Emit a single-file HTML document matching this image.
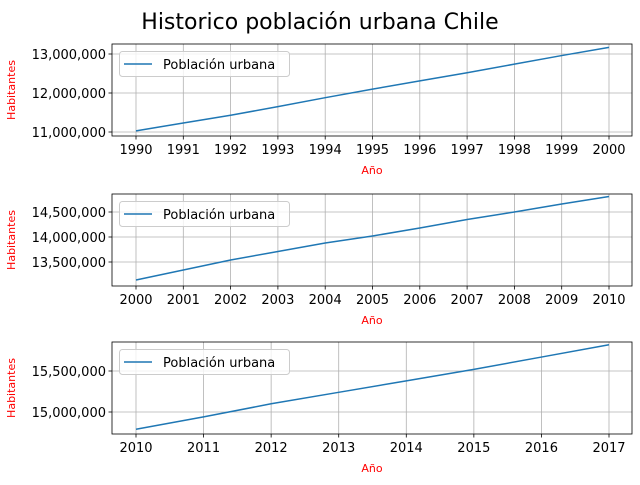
<!DOCTYPE html>
<html><head><meta charset="utf-8"><style>
body{margin:0;background:#fff;}
svg{font-family:"DejaVu Sans","Liberation Sans",sans-serif;}
</style></head><body>
<svg id="c" width="640" height="480">
<text x="320" y="29" font-size="22" text-anchor="middle">Historico población urbana Chile</text>
</svg>
<script>
const years1=[1990,1991,1992,1993,1994,1995,1996,1997,1998,1999,2000];
const pop1=[11.03,11.23,11.43,11.65,11.88,12.10,12.31,12.52,12.74,12.96,13.17];
const years2=[2000,2001,2002,2003,2004,2005,2006,2007,2008,2009,2010];
const pop2=[13.14,13.34,13.54,13.71,13.88,14.02,14.18,14.35,14.50,14.66,14.81];
const years3=[2010,2011,2012,2013,2014,2015,2016,2017];
const pop3=[14.79,14.94,15.10,15.24,15.38,15.52,15.67,15.82];
const yticks1=[11,12,13], yticks2=[13.5,14,14.5], yticks3=[15,15.5];
const NS='http://www.w3.org/2000/svg', svg=document.getElementById('c');
function mk(t,a,p){const e=document.createElementNS(NS,t);for(const k in a)e.setAttribute(k,a[k]);(p||svg).appendChild(e);return e;}
function fmt(v){return Math.round(v*1e6).toLocaleString('en-US');}
function panel(idx,top,years,pop,yt,ya,yb){
  const L=112,R=632,B=top+92;
  const x0=years[0],x1=years[years.length-1];
  const xs=v=>136+(v-x0)/(x1-x0)*473;
  const ys=v=>ya[1]+(v-ya[0])*(yb[1]-ya[1])/(yb[0]-ya[0]);
  const g=mk('g',{});
  
  
  years.forEach(y=>{
    const l=mk('line',{x1:xs(y),x2:xs(y),y1:top,y2:B,stroke:'#b0b0b0','stroke-width':0.8},g);
    
    mk('line',{x1:xs(y),x2:xs(y),y1:B,y2:B+3.5,stroke:'#000','stroke-width':0.8},g);
    const t=mk('text',{x:xs(y),y:B+18,'font-size':13,'text-anchor':'middle'},g);t.textContent=y;
    
  });
  yt.forEach(v=>{
    const l=mk('line',{x1:L,x2:R,y1:ys(v),y2:ys(v),stroke:'#b0b0b0','stroke-width':0.8},g);
    
    mk('line',{x1:L-3.5,x2:L,y1:ys(v),y2:ys(v),stroke:'#000','stroke-width':0.8},g);
    const t=mk('text',{x:L-6,y:ys(v)+5,'font-size':13,'text-anchor':'end'},g);t.textContent=fmt(v);
    
  });
  const p=mk('polyline',{points:years.map((y,i)=>xs(y)+','+ys(pop[i])).join(' '),fill:'none',stroke:'#1f77b4','stroke-width':1.5},g);
  
  const f=mk('rect',{x:L,y:top,width:R-L,height:92,fill:'none',stroke:'#000','stroke-width':0.8},g);
  
  const lg=mk('g',{},g);
  mk('rect',{x:119.5,y:top+7.5,width:170,height:25,rx:3,fill:'#fff','fill-opacity':0.8,stroke:'#ccc'},lg);
  mk('line',{x1:124,x2:152,y1:top+20,y2:top+20,stroke:'#1f77b4','stroke-width':1.5},lg);
  const lt=mk('text',{x:163,y:top+25,'font-size':13},lg);lt.textContent='Población urbana';
  const xl=mk('text',{x:372,y:B+38,'font-size':11,fill:'red','text-anchor':'middle'},g);xl.textContent='Año';
  
  const yl=mk('text',{x:15,y:top+46,'font-size':11,fill:'red','text-anchor':'middle',transform:`rotate(-90 15 ${top+46})`},g);yl.textContent='Habitantes';
  
}
panel(1,44,years1,pop1,yticks1,[11,132],[13,54]);
panel(2,194,years2,pop2,yticks2,[13.5,262],[14.5,212]);
panel(3,342,years3,pop3,yticks3,[15,412],[15.5,371]);
</script>
</body></html>
